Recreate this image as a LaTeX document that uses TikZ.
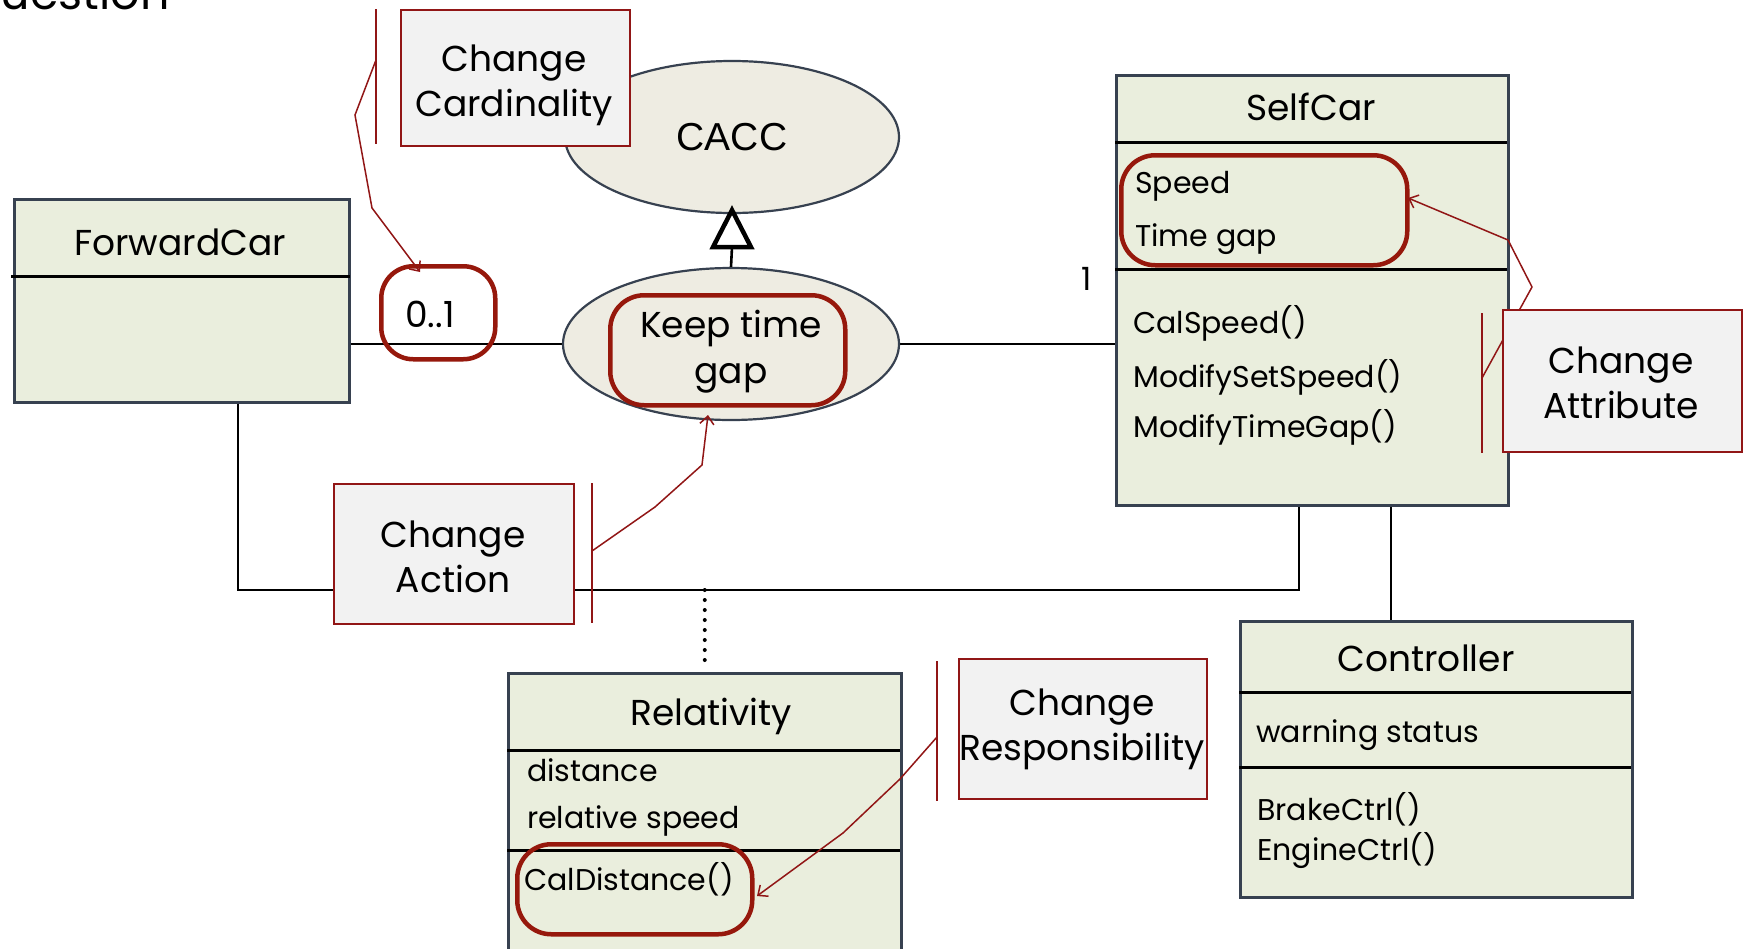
\documentclass[tikz,border=0pt]{standalone}
\usepackage{fontspec}
\setmainfont{Poppins}
\newfontfamily\arialfont{Liberation Sans}
\usetikzlibrary{arrows.meta,shapes.geometric,calc}
\pgfdeclarelayer{background}
\pgfsetlayers{background,main}

\definecolor{classfill}{RGB}{234,238,221}
\definecolor{ucfill}{RGB}{238,236,226}
\definecolor{edge}{RGB}{55,65,80}
\definecolor{notefill}{RGB}{242,242,242}
\definecolor{markred}{RGB}{150,24,12}
\definecolor{notered}{RGB}{145,22,22}

\tikzset{
  classbox/.style={draw=edge, line width=2.5pt, fill=classfill, rectangle, inner sep=0pt, anchor=north west},
  usecase/.style={draw=edge, line width=2.2pt, fill=ucfill, ellipse, inner sep=0pt},
  notebox/.style={draw=notered, line width=2pt, fill=notefill, rectangle, inner sep=0pt, anchor=north west},
  notebar/.style={notered, line width=1.6pt},
  callout/.style={notered, line width=1.5pt, -{Straight Barb[length=8pt,width=14pt,line width=1.5pt]}},
  hilite/.style={draw=markred, line width=4.5pt, rounded corners=34pt, rectangle, inner sep=0pt, anchor=north west},
  assoc/.style={black, line width=2.6pt},
  divider/.style={black, line width=3pt},
  genhead/.style={draw=black, fill=white, line width=4.5pt, line join=miter},
  dots/.style={black, line width=4pt, line cap=round, dash pattern=on 0pt off 10pt, shorten >=5pt},
  classname/.style={font=\fontsize{36}{42}\selectfont, anchor=base, inner sep=0pt},
  member/.style={font=\fontsize{30}{36}\selectfont, anchor=base west, inner sep=0pt},
  % anchor=base of a two-line node sits on its last line
  notetext/.style={font=\fontsize{36}{45}\selectfont, align=center, anchor=base, inner sep=0pt},
}

\begin{document}
\begin{tikzpicture}[x=1pt,y=-1pt]
\useasboundingbox (0,0) rectangle (1746,948);
\begin{pgfonlayer}{background}
  \fill[white] (0,0) rectangle (1746,948);
\end{pgfonlayer}

% slide heading, mostly above the page
\node[font=\fontsize{46}{50}\selectfont, anchor=base east, inner sep=0pt] (heading) at (170,9) {Question};

% ---------- use cases ----------
\node[usecase, minimum width=334pt, minimum height=152pt] (cacc) at (732,137) {\arialfont\fontsize{39}{44}\selectfont CACC};
\node[usecase, minimum width=336pt, minimum height=152pt] (keep) at (731,344) {};
\node[hilite, minimum width=235pt, minimum height=110pt] (keephl) at (608,293) {};
\node[notetext, font=\fontsize{36}{46}\selectfont] (keeptext) at (731,383) {Keep time\\gap};

% ---------- ForwardCar ----------
\node[classbox, minimum width=335pt, minimum height=203pt] (fwd) at (13,198) {};
\draw[divider] (11,276) -- (350,276);
\node[classname] (fwdname) at (180,255) {ForwardCar};

% ---------- SelfCar ----------
\node[classbox, minimum width=392pt, minimum height=430pt] (sc) at (1115,74) {};
\draw[divider] (1115,142) -- (1507,142);
\draw[divider] (1115,269) -- (1507,269);
\node[classname] (scname) at (1311,120) {SelfCar};
\node[hilite, minimum width=286pt, minimum height=110pt] (attrhl) at (1119,153) {};
\node[member] (speed) at (1135,193) {Speed};
\node[member] (timegap) at (1135,246) {Time gap};
\node[member] (calspeed) at (1133,333) {CalSpeed()};
\node[member] (modset) at (1133,387) {ModifySetSpeed()};
\node[member] (modgap) at (1133,437) {ModifyTimeGap()};

% ---------- Controller ----------
\node[classbox, minimum width=392pt, minimum height=276pt] (ctrl) at (1239,620) {};
\draw[divider] (1239,692) -- (1631,692);
\draw[divider] (1239,767) -- (1631,767);
\node[classname] (ctrlname) at (1426,671) {Controller};
\node[member] (warn) at (1256,742) {warning status};
\node[member] (brake) at (1257,820) {BrakeCtrl()};
\node[member] (engine) at (1257,860) {EngineCtrl()};

% ---------- Relativity ----------
\node[classbox, minimum width=393pt, minimum height=320pt] (rel) at (507,672) {};
\draw[divider] (507,750) -- (900,750);
\draw[divider] (507,850) -- (900,850);
\node[classname] (relname) at (711,725) {Relativity};
\node[member] (dist) at (527,781) {distance};
\node[member] (relspeed) at (527,828) {relative speed};
\node[hilite, minimum width=235pt, minimum height=90pt] (calhl) at (515,842) {};
\node[member] (caldist) at (524,890) {CalDistance()};

% ---------- multiplicities ----------
\node[hilite, rounded corners=32pt, minimum width=114pt, minimum height=93pt] (multhl) at (379,264) {};
\node[font=\fontsize{36}{40}\selectfont, anchor=base, inner sep=0pt] (mult) at (430,327) {0..1};
\node[font=\fontsize{32}{36}\selectfont, anchor=base, inner sep=0pt] (one) at (1087,290) {1};

% ---------- relationships ----------
\coordinate (busy) at (0,590);
\coordinate (fwdx) at (238,0);
\coordinate (scx) at (1299,0);
\coordinate (ctrlx) at (1391,0);
\begin{pgfonlayer}{background}
  \draw[assoc] (fwd.east |- keep.west) -- (keep.west);
  \draw[assoc] (keep.east) -- (sc.west |- keep.east);
  \draw[assoc] (fwd.south -| fwdx) -- (fwdx |- busy) -- (scx |- busy) -- (sc.south -| scx);
  \draw[assoc] (sc.south -| ctrlx) -- (ctrl.north -| ctrlx);
  \draw[dots] (rel.north |- busy) -- (rel.north);
\end{pgfonlayer}
% generalization: Keep time gap specialises CACC (hollow triangle head)
\coordinate (gentip) at ($(cacc.south)+(0,-4)$);
\coordinate (genbase) at ($(cacc.south)+(0,33)$);
\draw[assoc] (keep.north) -- (genbase);
\draw[genhead] (gentip) -- ($(genbase)+(-19,0)$) -- ($(genbase)+(19,0)$) -- cycle;

% ---------- change notes ----------
\coordinate (cardfrom) at (376,60);
\coordinate (cardto) at (420,272);
\draw[notebar] (376,9) -- (376,144);
\draw[callout] (cardfrom) -- (355,115) -- (372,208) -- (cardto);
\node[notebox, minimum width=229pt, minimum height=136pt] (cardnote) at (400,9) {};
\node[notetext] (cardtext) at (514,116) {Change\\Cardinality};

\coordinate (actfrom) at (592,551);
\coordinate (actto) at (708,415);
\draw[notebar] (592,483) -- (592,623);
\draw[callout] (actfrom) -- (655,507) -- (702,465) -- (actto);
\node[notebox, minimum width=240pt, minimum height=140pt] (actnote) at (333,483) {};
\node[notetext] (acttext) at (453,592) {Change\\Action};

\coordinate (attrfrom) at (1482,378);
\coordinate (attrto) at (1408,198);
\draw[notebar] (1482,313) -- (1482,453);
\draw[callout] (attrfrom) -- (1532,287) -- (1508,240) -- (attrto);
\node[notebox, minimum width=239pt, minimum height=142pt] (attrnote) at (1502,309) {};
\node[notetext] (attrtext) at (1621,418) {Change\\Attribute};

\coordinate (respfrom) at (937,737);
\coordinate (respto) at (757,896);
\draw[notebar] (937,661) -- (937,801);
\draw[callout] (respfrom) -- (900,779) -- (843,833) -- (respto);
\node[notebox, minimum width=248pt, minimum height=140pt] (respnote) at (958,658) {};
\node[notetext] (resptext) at (1082,760) {Change\\Responsibility};
\end{tikzpicture}
\end{document}
